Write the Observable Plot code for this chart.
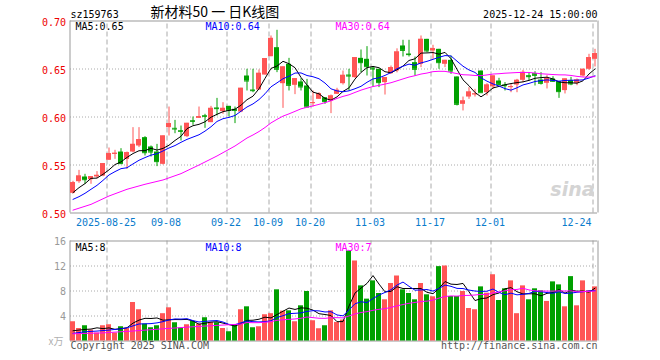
<!DOCTYPE html>
<html><head><meta charset="utf-8">
<script src="https://cdn.jsdelivr.net/npm/d3@7"></script>
<script src="https://cdn.jsdelivr.net/npm/@observablehq/plot@0.6"></script>
<style>
body{margin:0;background:#fff;}
#wrap{position:relative;width:660px;height:360px;overflow:hidden;background:#fff;}
#main,#vol{position:absolute;left:0;}
#main{top:0px}
#vol{top:232px}
</style></head>
<body><div id="wrap"><div id="main"></div><div id="vol"></div></div>
<script>
// ---- data (88 trading days, 2025-08-15 .. 2025-12-24) ----
const open = [
0.5205,0.5326,0.5375,0.5347,0.5375,0.5385,0.5549,0.5611,0.5635,0.5559,
0.5635,0.5698,0.5785,0.5688,0.5635,0.5507,0.5889,0.5882,0.5858,0.5795,
0.5962,0.5986,0.6014,0.5941,0.6094,0.6056,0.6111,0.6080,0.6052,0.6427,
0.6281,0.6281,0.6437,0.6628,0.6722,0.6347,0.6549,0.6330,0.6365,0.6323,
0.6142,0.6184,0.6201,0.6167,0.6236,0.6347,0.6437,0.6410,0.6611,0.6601,
0.6510,0.6497,0.6358,0.6451,0.6480,0.6740,0.6656,0.6566,0.6549,0.6809,
0.6688,0.6705,0.6549,0.6590,0.6417,0.6132,0.6208,0.6233,0.6479,0.6253,
0.6313,0.6375,0.6333,0.6309,0.6333,0.6382,0.6430,0.6451,0.6385,0.6351,
0.6396,0.6368,0.6275,0.6379,0.6351,0.6427,0.6497,0.6601];
const high = [
0.5330,0.5444,0.5403,0.5378,0.5431,0.5514,0.5677,0.5653,0.5670,0.5635,
0.5889,0.5889,0.5795,0.5698,0.5715,0.5802,0.6104,0.5965,0.5906,0.5934,
0.6000,0.6104,0.6028,0.6111,0.6194,0.6149,0.6111,0.6104,0.6299,0.6497,
0.6497,0.6490,0.6608,0.6844,0.6903,0.6521,0.6611,0.6399,0.6399,0.6392,
0.6271,0.6253,0.6201,0.6229,0.6299,0.6479,0.6497,0.6618,0.6698,0.6733,
0.6521,0.6497,0.6410,0.6531,0.6710,0.6799,0.6799,0.6625,0.6844,0.6809,
0.6747,0.6705,0.6590,0.6635,0.6417,0.6208,0.6306,0.6288,0.6479,0.6347,
0.6427,0.6403,0.6358,0.6340,0.6392,0.6486,0.6462,0.6472,0.6462,0.6431,
0.6420,0.6368,0.6396,0.6413,0.6396,0.6497,0.6653,0.6705];
const low = [
0.5200,0.5309,0.5299,0.5299,0.5358,0.5378,0.5549,0.5559,0.5507,0.5455,
0.5628,0.5681,0.5594,0.5583,0.5483,0.5500,0.5802,0.5826,0.5750,0.5785,
0.5913,0.5986,0.5882,0.5941,0.6010,0.6028,0.6000,0.5931,0.6045,0.6271,
0.6253,0.6281,0.6437,0.6628,0.6462,0.6090,0.6271,0.6233,0.6271,0.6104,
0.6104,0.6184,0.6132,0.6035,0.6236,0.6333,0.6271,0.6403,0.6462,0.6427,
0.6312,0.6306,0.6229,0.6444,0.6460,0.6625,0.6625,0.6427,0.6514,0.6670,
0.6601,0.6497,0.6514,0.6444,0.6115,0.6063,0.6184,0.6208,0.6253,0.6219,
0.6288,0.6323,0.6271,0.6253,0.6253,0.6358,0.6375,0.6323,0.6333,0.6292,
0.6361,0.6194,0.6240,0.6326,0.6326,0.6417,0.6486,0.6521];
const close = [
0.5316,0.5385,0.5347,0.5378,0.5392,0.5514,0.5618,0.5622,0.5514,0.5628,
0.5715,0.5764,0.5628,0.5635,0.5535,0.5802,0.5931,0.5875,0.5851,0.5934,
0.5955,0.6003,0.6007,0.6090,0.6087,0.6090,0.6069,0.6069,0.6299,0.6375,
0.6274,0.6455,0.6608,0.6819,0.6497,0.6521,0.6330,0.6399,0.6313,0.6104,
0.6149,0.6243,0.6160,0.6219,0.6278,0.6434,0.6427,0.6618,0.6566,0.6524,
0.6500,0.6358,0.6410,0.6514,0.6677,0.6694,0.6650,0.6497,0.6809,0.6688,
0.6712,0.6566,0.6590,0.6479,0.6132,0.6167,0.6260,0.6240,0.6253,0.6333,
0.6427,0.6340,0.6326,0.6316,0.6382,0.6465,0.6420,0.6434,0.6351,0.6403,
0.6372,0.6264,0.6396,0.6344,0.6385,0.6497,0.6618,0.6660];
// volume (x10k)
const volume = [
3.08,2.0,2.44,1.75,1.27,2.44,2.6,1.27,2.28,2.0,
6.16,5.0,2.71,2.12,2.44,4.37,5.31,2.92,2.07,2.6,
3.13,2.71,3.72,2.97,2.92,2.0,1.48,2.55,5.0,5.47,
2.12,2.28,4.2,4.37,8.19,4.78,4.83,3.08,5.63,7.92,
3.24,1.96,2.44,4.83,2.97,3.35,14.4,12.8,8.82,6.7,
9.62,7.6,6.59,9.2,10.4,8.19,7.6,6.59,9.2,7.39,
7.07,11.9,12.0,7.12,7.12,7.92,5.2,5.0,8.66,7.65,
10.6,6.48,8.35,9.62,4.37,8.82,6.59,8.35,8.03,6.33,
9.46,8.98,5.47,10.3,5.63,9.62,8.03,8.66];

// moving-average values at the start of the window (they use days before the window)
const ma5EarlyIdx = [0,1,2,3];            const ma5Early = [0.5212,0.5264,0.5306,0.5361];
const ma10EarlyIdx = [0,1,2,3,4,5,6,7,8];  const ma10Early = [0.5142,0.5170,0.5205,0.5247,0.5288,0.5340,0.5396,0.5431,0.5462];
const ma30EarlyIdx = [0,3,6,9,12,15,18,21,24,27]; const ma30Early = [0.503,0.509,0.5177,0.5247,0.5299,0.5344,0.5410,0.5500,0.5594,0.5698];
const vma5EarlyIdx = [0,1,2,3];           const vma5Early = [1.64,1.75,1.85,1.91];
const vma10EarlyIdx = [0,2,4,6,8];        const vma10Early = [1.22,1.48,1.59,1.75,1.96];
const vma30EarlyIdx = [0,5,10,15,20,25,28]; const vma30Early = [1.15,1.3,1.6,1.95,2.28,2.55,2.7];

// axis / label text
const dateLabels = ["2025-08-25","09-08","09-22","10-09","10-20","11-03","11-17","12-01","12-24"];
const dateIdx = [6,16,26,33,40,50,60,70,87];
const priceTicks = [0.70,0.65,0.60,0.55,0.50];
const priceGrid = [0.65,0.60,0.55];
const volTicks = [16,12,8,4];
const volGrid = [12,8,4];
const priceLegend = ["MA5:0.65","MA10:0.64","MA30:0.64"];
const volLegend = ["MA5:8","MA10:8","MA30:7"];
const maColors = ["#000000","#0000ff","#ff00ff"];
const code = "sz159763";
const titleText = "新材料50 一 日K线图";
const stamp = "2025-12-24 15:00:00";
const unitText = "x万";
const copyright = "Copyright 2025 SINA.COM";
const siteUrl = "http://finance.sina.com.cn";

const RED = "#ff5555", GREEN = "#00a000", GRID = "#aaaaaa", FRAME = "#999999";
const MONO = "DejaVu Sans Mono";

const candles = open.map((o,i)=>({i, open:o, high:high[i], low:low[i], close:close[i], vol:volume[i],
  c: close[i] >= o ? RED : GREEN}));
const HW = 2.5/6; // half body width in index units

function ma(arr, n, eIdx, eVal){
  const pts = eIdx.map((i,k)=>({i, v:eVal[k]}));
  for(let i=n-1;i<arr.length;i++) pts.push({i, v:d3.mean(arr.slice(i-n+1,i+1))});
  return pts;
}
const pMA = [ma(close,5,ma5EarlyIdx,ma5Early), ma(close,10,ma10EarlyIdx,ma10Early), ma(close,30,ma30EarlyIdx,ma30Early)];
const vMA = [ma(volume,5,vma5EarlyIdx,vma5Early), ma(volume,10,vma10EarlyIdx,vma10Early), ma(volume,30,vma30EarlyIdx,vma30Early)];

const gridX = dateIdx.map(d=>d-1/3);
const xScale = {type:"linear", domain:[-0.5,87.5], range:[69.5,597.5], axis:null};
const dates = dateLabels.map((t,k)=>({t, x:gridX[k]}));

const main = Plot.plot({
  width:660, height:232, marginLeft:70, marginRight:63, marginTop:20, marginBottom:20,
  x: xScale,
  y: {domain:[0.5,0.7], range:[212.5,20.5], axis:null},
  color: {type:"identity"},
  style: {background:"transparent", fontFamily:MONO, fontSize:"10px"},
  marks: [
    Plot.ruleY(priceGrid, {stroke:GRID, strokeDasharray:"1,2"}),
    Plot.ruleX(gridX, {y1:0.5, y2:0.7, stroke:GRID, strokeDasharray:"5,3"}),
    Plot.ruleY([0.5,0.7], {stroke:FRAME}),
    Plot.ruleX([-0.5,87.5], {y1:0.5, y2:0.7, stroke:FRAME}),
    Plot.text(["sina"], {frameAnchor:"bottom-right", textAnchor:"end", lineAnchor:"bottom", dx:-3, dy:-17,
      fill:"#d4d4d4", fontSize:19, fontWeight:"bold", fontStyle:"italic", fontFamily:"DejaVu Sans"}),
    Plot.ruleX(candles, {x:"i", y1:"low", y2:"high", stroke:"c"}),
    Plot.rect(candles, {x1:d=>d.i-HW, x2:d=>d.i+HW, y1:"open", y2:"close", fill:"c", inset:0}),
    Plot.ruleY(candles, {x1:d=>d.i-HW, x2:d=>d.i+HW, y:"close", stroke:"c"}),
    ...pMA.map((pts,k)=>Plot.line(pts, {x:"i", y:"v", stroke:maColors[k], strokeWidth:1})),
    Plot.text(priceTicks, {x:-0.5, y:d=>d, text:d=>d.toFixed(2), textAnchor:"end", dx:-4, dy:1.5, fill:"#ee0000", fontFamily:MONO, fontSize:10}),
    Plot.text(dates.slice(0,8), {x:"x", y:0.5, text:"t", dx:-1, dy:9.5, fill:"#0a7ccc", fontFamily:MONO, fontSize:10}),
    Plot.text(dates.slice(8), {x:"x", y:0.5, text:"t", textAnchor:"end", dx:-1.5, dy:9.5, fill:"#0a7ccc", fontFamily:MONO, fontSize:10}),
    ...priceLegend.map((t,k)=>Plot.text([t], {frameAnchor:"top-left", textAnchor:"start", lineAnchor:"bottom", dx:5+130*k, dy:9.5, fill:maColors[k], fontFamily:MONO, fontSize:10})),
    Plot.text([code], {frameAnchor:"top-left", textAnchor:"start", lineAnchor:"bottom", dy:-3, fill:"#000", fontFamily:MONO, fontSize:10}),
    Plot.text([titleText], {frameAnchor:"top-left", textAnchor:"start", lineAnchor:"bottom", dx:80, dy:-3.5, fill:"#000", fontFamily:"Noto Sans CJK SC", fontSize:14}),
    Plot.text([stamp], {frameAnchor:"top-right", textAnchor:"end", lineAnchor:"bottom", dy:-3, fill:"#000", fontFamily:MONO, fontSize:10})
  ]
});
document.getElementById("main").appendChild(main);

const vol = Plot.plot({
  width:660, height:128, marginLeft:70, marginRight:63, marginTop:8, marginBottom:20,
  x: xScale,
  y: {domain:[0,16], range:[108.5,8.5], axis:null},
  color: {type:"identity"},
  style: {background:"transparent", fontFamily:MONO, fontSize:"10px"},
  marks: [
    Plot.ruleY(volGrid, {stroke:GRID, strokeDasharray:"1,2"}),
    Plot.ruleX(gridX, {y1:0, y2:16, stroke:GRID, strokeDasharray:"5,3"}),
    Plot.ruleY([0,16], {stroke:FRAME}),
    Plot.ruleX([-0.5,87.5], {y1:0, y2:16, stroke:FRAME}),
    Plot.rect(candles, {x1:d=>d.i-HW, x2:d=>d.i+HW, y1:0, y2:"vol", fill:"c", inset:0}),
    ...vMA.map((pts,k)=>Plot.line(pts, {x:"i", y:"v", stroke:maColors[k], strokeWidth:1})),
    Plot.text(volTicks, {x:-0.5, y:d=>d, text:d=>String(d), textAnchor:"end", dx:-4, dy:1, fill:"#999999", fontFamily:MONO, fontSize:10}),
    Plot.text([unitText], {frameAnchor:"bottom-left", textAnchor:"end", lineAnchor:"bottom", dx:-7, dy:4, fill:"#b0b0b0", fontFamily:"Noto Sans CJK SC", fontSize:10}),
    ...volLegend.map((t,k)=>Plot.text([t], {frameAnchor:"top-left", textAnchor:"start", lineAnchor:"bottom", dx:5+130*k, dy:10, fill:maColors[k], fontFamily:MONO, fontSize:10})),
    Plot.text([copyright], {frameAnchor:"bottom-left", textAnchor:"start", lineAnchor:"bottom", dy:8.5, fill:"#555555", fontFamily:MONO, fontSize:10}),
    Plot.text([siteUrl], {frameAnchor:"bottom-right", textAnchor:"end", lineAnchor:"bottom", dy:8.5, fill:"#555555", fontFamily:MONO, fontSize:10})
  ]
});
document.getElementById("vol").appendChild(vol);
</script>
</body></html>
